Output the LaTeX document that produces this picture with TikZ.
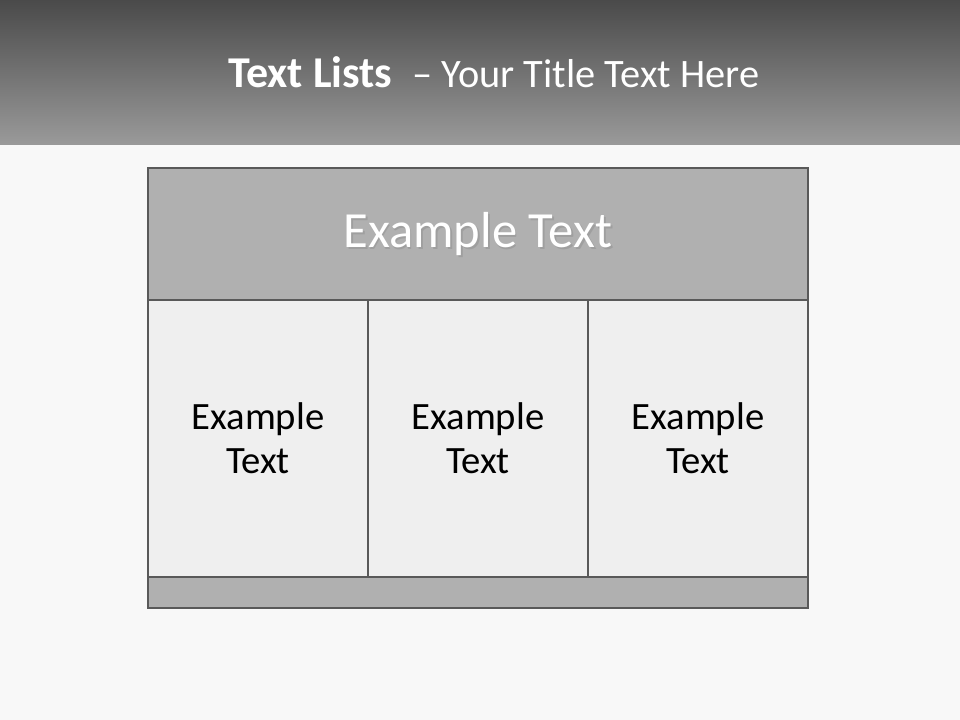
\documentclass[tikz,border=0pt]{standalone}
\usepackage{fontspec}
\setmainfont{Carlito}
\usepackage{tikz}
\usetikzlibrary{positioning}
\definecolor{pagebg}{HTML}{F8F8F8}
\definecolor{bandtop}{HTML}{4A4A4A}
\definecolor{bandbot}{HTML}{9A9A9A}
\definecolor{edge}{HTML}{595959}
\definecolor{darkfill}{HTML}{B0B0B0}
\definecolor{lightfill}{HTML}{EFEFEF}
\tikzset{
    cellbox/.style={draw=edge,line width=2pt,fill=lightfill,inner sep=0pt,
        minimum width=220*0.025cm,minimum height=277*0.025cm,
        align=center,font=\fontsize{27.5}{31.5}\selectfont},
    barbox/.style={draw=edge,line width=2pt,fill=darkfill,inner sep=0pt,minimum width=660*0.025cm}
}
\begin{document}
\begin{tikzpicture}[x=0.025cm,y=-0.025cm]
\fill[pagebg] (0,0) rectangle (960,720);
\useasboundingbox (0,0) rectangle (960,720);
\shade[top color=bandtop,bottom color=bandbot] (0,0) rectangle (960,145);
\node[anchor=base west,inner sep=0pt,text=white] (title) at (228,88)
    {\fontsize{31.3}{36}\selectfont\textbf{Text Lists}\ \ \fontsize{28.7}{34}\selectfont– Your Title Text Here};
\node[barbox,minimum height=132*0.025cm] (head) at (478,234) {};
\foreach \i/\x in {1/258,2/478,3/698}
{
    \node[cellbox] (cell\i) at (\x,438.5) {Example\\Text};
}
\node[barbox,minimum height=31*0.025cm] (foot) at (478,592.5) {};
\node[text=black!40,opacity=0.7,font=\fontsize{36}{40}\selectfont] at ([xshift=1.2pt,yshift=-1.2pt]head.center) {Example Text};
\node[text=white,font=\fontsize{36}{40}\selectfont] (headtext) at (head.center) {Example Text};
\end{tikzpicture}
\end{document}
